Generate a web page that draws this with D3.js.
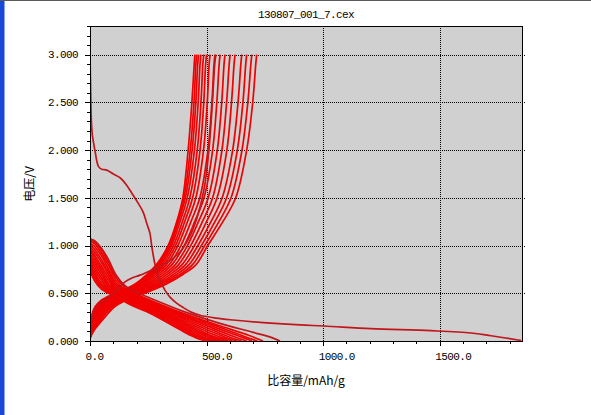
<!DOCTYPE html>
<html><head><meta charset="utf-8">
<script src="https://cdn.jsdelivr.net/npm/d3@7"></script>
<style>
html,body{margin:0;padding:0;background:#fff;}
svg{display:block;}
</style></head>
<body>
<svg id="chart" width="591" height="415"></svg>
<script>
// ---- data (capacity mAh/g, voltage V) ----
const title = "130807_001_7.cex";
const xLabel = "比容量/mAh/g";
const yLabel = "电压/V";
const xTicks = [0, 500, 1000, 1500];
const xTickLabels = ["0.0", "500.0", "1000.0", "1500.0"];
const yTicks = [0, 0.5, 1.0, 1.5, 2.0, 2.5, 3.0];
const yTickLabels = ["0.000", "0.500", "1.000", "1.500", "2.000", "2.500", "3.000"];

const dis1 = [[0,3.0],[3,2.6],[6,2.3],[10,2.16],[15,2.08],[21,2.0],[36,1.83],[50,1.8],[72,1.79],[100,1.75],[129,1.71],[155,1.64],[179,1.55],[205,1.45],[228,1.35],[245,1.22],[257,1.13],[265,0.99],[279,0.80],[293,0.68],[307,0.60],[322,0.53],[343,0.46],[370,0.40],[400,0.35],[436,0.30],[472,0.27],[540,0.24],[614,0.22],[758,0.19],[901,0.168],[1004,0.157],[1205,0.13],[1463,0.108],[1634,0.084],[1720,0.055],[1850,0.005]];
const chg1 = [[0,0.05],[4,0.18],[10,0.25],[21,0.33],[50,0.41],[93,0.48],[125,0.56],[150,0.62],[180,0.66],[215,0.69],[270,0.75],[335,0.83],[385,0.93],[425,1.08],[460,1.3],[490,1.6],[510,2.0],[525,2.5],[535,2.9],[540,3.0]];

const dis2 = [[0,3.0],[0,1.08],[20,1.05],[50,0.97],[80,0.85],[110,0.70],[150,0.58],[200,0.51],[257,0.45],[400,0.31],[550,0.19],[700,0.09],[780,0.035],[815,0]];
const chg2 = [[0,0.03],[20,0.12],[64,0.25],[107,0.36],[150,0.42],[200,0.47],[255,0.52],[330,0.6],[400,0.7],[455,0.8],[505,1.0],[570,1.25],[625,1.5],[672,2.0],[698,2.5],[711,2.9],[715,3.0]];
const dis3 = [[0,3.0],[0,1.07],[20,1.04],[50,0.95],[80,0.82],[110,0.67],[150,0.56],[200,0.49],[257,0.43],[400,0.29],[550,0.165],[680,0.06],[742,0]];
const chg3 = [[0,0.03],[16,0.12],[55,0.25],[98,0.36],[140,0.42],[190,0.47],[243,0.52],[318,0.6],[388,0.7],[440,0.8],[492,1.0],[553,1.25],[605,1.5],[652,2.0],[677,2.5],[690,2.9],[694,3.0]];
const dis4 = [[0,3.0],[0,1.06],[20,1.02],[50,0.92],[80,0.79],[110,0.64],[150,0.54],[200,0.48],[257,0.42],[400,0.28],[550,0.15],[660,0.05],[718,0]];
const chg4 = [[0,0.03],[13,0.12],[48,0.25],[90,0.36],[131,0.42],[180,0.47],[232,0.52],[305,0.6],[374,0.7],[425,0.8],[478,1.0],[536,1.25],[586,1.5],[632,2.0],[656,2.5],[668,2.9],[672,3.0]];
const dis5 = [[0,3.0],[0,1.04],[20,0.99],[50,0.89],[80,0.75],[110,0.61],[150,0.53],[200,0.47],[257,0.41],[400,0.27],[540,0.14],[640,0.05],[695,0]];
const chg5 = [[0,0.03],[11,0.12],[42,0.25],[82,0.36],[123,0.42],[171,0.47],[222,0.52],[293,0.6],[360,0.7],[410,0.8],[463,1.0],[519,1.25],[567,1.5],[612,2.0],[635,2.5],[647,2.9],[651,3.0]];
const dis6 = [[0,3.0],[0,1.02],[20,0.96],[50,0.85],[80,0.72],[110,0.59],[150,0.52],[200,0.46],[257,0.40],[400,0.26],[530,0.13],[620,0.045],[672,0]];
const chg6 = [[0,0.03],[9,0.12],[36,0.25],[75,0.36],[115,0.42],[162,0.47],[212,0.52],[281,0.6],[346,0.7],[395,0.8],[448,1.0],[500,1.25],[545,1.5],[587,2.0],[607,2.5],[618,2.9],[622,3.0]];
const dis7 = [[0,3.0],[0,1.0],[20,0.93],[50,0.82],[80,0.69],[110,0.57],[150,0.51],[200,0.45],[257,0.39],[400,0.245],[520,0.12],[600,0.04],[650,0]];
const chg7 = [[0,0.03],[8,0.12],[31,0.25],[68,0.36],[107,0.42],[153,0.47],[202,0.52],[269,0.6],[332,0.7],[380,0.8],[432,1.0],[482,1.25],[526,1.5],[566,2.0],[586,2.5],[597,2.9],[601,3.0]];
const dis8 = [[0,3.0],[0,0.98],[20,0.90],[50,0.78],[80,0.66],[110,0.55],[150,0.50],[200,0.44],[257,0.38],[400,0.23],[510,0.11],[580,0.04],[630,0]];
const chg8 = [[0,0.03],[7,0.12],[27,0.25],[61,0.36],[99,0.42],[145,0.47],[193,0.52],[258,0.6],[319,0.7],[366,0.8],[418,1.0],[465,1.25],[507,1.5],[546,2.0],[565,2.5],[575,2.9],[579,3.0]];
const dis9 = [[0,3.0],[0,0.96],[20,0.87],[50,0.75],[80,0.63],[110,0.54],[150,0.49],[200,0.43],[257,0.37],[400,0.215],[500,0.10],[565,0.035],[610,0]];
const chg9 = [[0,0.03],[6,0.12],[23,0.25],[55,0.36],[92,0.42],[137,0.47],[184,0.52],[248,0.6],[306,0.7],[352,0.8],[404,1.0],[449,1.25],[489,1.5],[526,2.0],[544,2.5],[554,2.9],[558,3.0]];
const dis10 = [[0,3.0],[0,0.93],[20,0.84],[50,0.72],[80,0.60],[110,0.53],[150,0.48],[200,0.42],[257,0.36],[400,0.20],[490,0.09],[550,0.03],[592,0]];
const chg10 = [[0,0.03],[5,0.12],[19,0.25],[49,0.36],[85,0.42],[129,0.47],[176,0.52],[238,0.6],[294,0.7],[340,0.8],[390,1.0],[433,1.25],[471,1.5],[506,2.0],[523,2.5],[532,2.9],[536,3.0]];
const dis11 = [[0,3.0],[0,0.91],[20,0.81],[50,0.69],[80,0.58],[110,0.52],[150,0.47],[200,0.41],[257,0.35],[400,0.185],[480,0.085],[535,0.03],[575,0]];
const chg11 = [[0,0.03],[4,0.12],[16,0.25],[43,0.36],[78,0.42],[121,0.47],[168,0.52],[229,0.6],[283,0.7],[328,0.8],[377,1.0],[418,1.25],[454,1.5],[487,2.0],[503,2.5],[511,2.9],[515,3.0]];
const dis12 = [[0,3.0],[0,0.88],[20,0.78],[50,0.66],[80,0.56],[110,0.51],[150,0.46],[200,0.40],[257,0.34],[400,0.17],[470,0.08],[520,0.028],[560,0]];
const chg12 = [[0,0.03],[4,0.12],[13,0.25],[38,0.36],[72,0.42],[114,0.47],[161,0.52],[221,0.6],[274,0.7],[318,0.8],[367,1.0],[406,1.25],[440,1.5],[472,2.0],[488,2.5],[496,2.9],[500,3.0]];
const dis13 = [[0,3.0],[0,0.86],[20,0.75],[50,0.63],[80,0.54],[110,0.50],[150,0.45],[200,0.39],[257,0.33],[400,0.155],[460,0.075],[505,0.025],[545,0]];
const chg13 = [[0,0.03],[3,0.12],[11,0.25],[34,0.36],[66,0.42],[108,0.47],[155,0.52],[214,0.6],[266,0.7],[309,0.8],[358,1.0],[396,1.25],[428,1.5],[460,2.0],[476,2.5],[484,2.9],[488,3.0]];
const dis14 = [[0,3.0],[0,0.84],[20,0.72],[50,0.60],[80,0.53],[110,0.49],[150,0.44],[200,0.38],[257,0.32],[400,0.14],[450,0.07],[495,0.022],[532,0]];
const chg14 = [[0,0.03],[3,0.12],[9,0.25],[30,0.36],[60,0.42],[102,0.47],[149,0.52],[208,0.6],[259,0.7],[301,0.8],[350,1.0],[386,1.25],[417,1.5],[448,2.0],[464,2.5],[472,2.9],[476,3.0]];
const dis15 = [[0,3.0],[0,0.81],[20,0.69],[50,0.58],[80,0.52],[110,0.48],[150,0.43],[200,0.37],[257,0.31],[400,0.125],[445,0.065],[485,0.02],[520,0]];
const chg15 = [[0,0.03],[2,0.12],[8,0.25],[27,0.36],[55,0.42],[96,0.47],[143,0.52],[203,0.6],[253,0.7],[295,0.8],[344,1.0],[379,1.25],[409,1.5],[438,2.0],[454,2.5],[462,2.9],[466,3.0]];
const dis16 = [[0,3.0],[0,0.79],[20,0.66],[50,0.56],[80,0.51],[110,0.47],[150,0.42],[200,0.36],[257,0.30],[400,0.11],[440,0.06],[478,0.02],[510,0]];
const chg16 = [[0,0.03],[2,0.12],[7,0.25],[24,0.36],[50,0.42],[88,0.47],[137,0.52],[199,0.6],[249,0.7],[290,0.8],[339,1.0],[375,1.25],[403,1.5],[430,2.0],[446,2.5],[454,2.9],[458,3.0]];
const dis17 = [[0,3.0],[0,0.76],[20,0.63],[50,0.54],[80,0.50],[110,0.46],[150,0.41],[200,0.35],[257,0.29],[400,0.10],[435,0.055],[470,0.018],[500,0]];
const chg17 = [[0,0.03],[2,0.12],[6,0.25],[22,0.36],[45,0.42],[80,0.47],[130,0.52],[195,0.6],[245,0.7],[285,0.8],[335,1.0],[372,1.25],[398,1.5],[421,2.0],[437,2.5],[447,2.9],[450,3.0]];

const brightRed = "#f00000";
const darkRed = "#c0161c";
const curves = [
  {pts: chg17, c: brightRed}, {pts: dis17, c: brightRed},
  {pts: chg16, c: brightRed}, {pts: dis16, c: brightRed},
  {pts: chg15, c: brightRed}, {pts: dis15, c: brightRed},
  {pts: chg14, c: brightRed}, {pts: dis14, c: brightRed},
  {pts: chg13, c: brightRed}, {pts: dis13, c: brightRed},
  {pts: chg12, c: brightRed}, {pts: dis12, c: brightRed},
  {pts: chg11, c: brightRed}, {pts: dis11, c: brightRed},
  {pts: chg10, c: brightRed}, {pts: dis10, c: brightRed},
  {pts: chg9, c: brightRed}, {pts: dis9, c: brightRed},
  {pts: chg8, c: brightRed}, {pts: dis8, c: brightRed},
  {pts: chg7, c: brightRed}, {pts: dis7, c: brightRed},
  {pts: chg6, c: brightRed}, {pts: dis6, c: brightRed},
  {pts: chg5, c: brightRed}, {pts: dis5, c: brightRed},
  {pts: chg4, c: brightRed}, {pts: dis4, c: brightRed},
  {pts: chg3, c: brightRed}, {pts: dis3, c: brightRed},
  {pts: chg2, c: brightRed}, {pts: dis2, c: darkRed},
  {pts: chg1, c: darkRed}, {pts: dis1, c: darkRed}
];

// ---- layout ----
const svg = d3.select("#chart");
const L = 90, R = 522, T = 26, B = 341;
const x = d3.scaleLinear().domain([0, 1853]).range([L, R]);
const y = d3.scaleLinear().domain([0, 3.3]).range([B, T]);
const mono = "'Liberation Mono', 'DejaVu Sans Mono', monospace";
const cjk = "'Noto Sans CJK SC', 'Noto Sans', sans-serif";

// window chrome
svg.append("rect").attr("x",0).attr("y",0).attr("width",591).attr("height",415).attr("fill","#ffffff");
svg.append("rect").attr("x",0).attr("y",0).attr("width",4).attr("height",415).attr("fill","#1848d8");
svg.append("rect").attr("x",4).attr("y",0).attr("width",1).attr("height",415).attr("fill","#8aa4e4");
svg.append("rect").attr("x",0).attr("y",0).attr("width",591).attr("height",1).attr("fill","#5a5a5a");

// plot background
svg.append("rect").attr("x",L).attr("y",T).attr("width",R-L).attr("height",B-T).attr("fill","#d0d0d0");

// grid
const grid = svg.append("g").attr("stroke","#000").attr("stroke-width",1).attr("stroke-dasharray","1,1").attr("shape-rendering","crispEdges");
xTicks.filter(v => v > 0).forEach(v => {
  grid.append("line").attr("x1",Math.round(x(v))+0.5).attr("x2",Math.round(x(v))+0.5).attr("y1",T).attr("y2",B);
});
yTicks.filter(v => v > 0).forEach(v => {
  grid.append("line").attr("y1",Math.round(y(v))+0.5).attr("y2",Math.round(y(v))+0.5).attr("x1",L).attr("x2",R+3);
});

// curves
svg.append("clipPath").attr("id","clip").append("rect").attr("x",L).attr("y",T-1).attr("width",R-L+1).attr("height",B-T+2);
const line = d3.line().x(d => x(d[0])).y(d => y(d[1])).curve(d3.curveCatmullRom.alpha(0.5));
const cg = svg.append("g").attr("clip-path","url(#clip)");
curves.forEach(cv => {
  cg.append("path").attr("d", line(cv.pts)).attr("fill","none").attr("stroke",cv.c).attr("stroke-width",1.7).attr("stroke-linejoin","round");
});

// frame
svg.append("rect").attr("x",L+0.5).attr("y",T+0.5).attr("width",R-L).attr("height",B-T).attr("fill","none").attr("stroke","#000").attr("stroke-width",1).attr("shape-rendering","crispEdges");

// axes ticks
const xAxis = d3.axisBottom(x).tickValues(d3.range(0, 1801, 100)).tickSizeInner(3).tickSizeOuter(0).tickFormat("");
const gx = svg.append("g").attr("transform",`translate(0,${B})`).call(xAxis);
gx.select(".domain").remove();
gx.selectAll(".tick line").attr("stroke","#000").attr("shape-rendering","crispEdges")
  .attr("y2", d => (d % 500 === 0 ? 5 : 3));

const yAxis = d3.axisLeft(y).tickValues(d3.range(0, 3.31, 0.1).map(v => +v.toFixed(1))).tickSizeInner(3).tickSizeOuter(0).tickFormat("");
const gy = svg.append("g").attr("transform",`translate(${L},0)`).call(yAxis);
gy.select(".domain").remove();
gy.selectAll(".tick line").attr("stroke","#000").attr("shape-rendering","crispEdges")
  .attr("x2", d => (Math.abs(d*2 - Math.round(d*2)) < 1e-6 ? -5 : -3));

// tick labels
xTicks.forEach((v, i) => {
  svg.append("text").attr("x", x(v) - 4.5).attr("y", 360).attr("font-family", mono).attr("font-size", 11)
    .attr("letter-spacing", "-0.6").attr("fill","#000").text(xTickLabels[i]);
});
yTicks.forEach((v, i) => {
  svg.append("text").attr("x", 78).attr("y", y(v)).attr("dy","0.35em").attr("text-anchor","end")
    .attr("font-family", mono).attr("font-size", 11).attr("letter-spacing", "-0.6").attr("fill","#000").text(yTickLabels[i]);
});

// title and axis labels
svg.append("text").attr("x", 306).attr("y", 18).attr("text-anchor","middle").attr("font-family", mono)
  .attr("font-size", 11).attr("letter-spacing","-0.6").attr("fill","#000").text(title);
svg.append("text").attr("x", 306).attr("y", 381).attr("dy","0.35em").attr("text-anchor","middle").attr("font-family", cjk)
  .attr("font-size", 12).attr("fill","#000").text(xLabel);
svg.append("text").attr("transform","translate(30,184) rotate(-90)").attr("dy","0.35em").attr("text-anchor","middle")
  .attr("font-family", cjk).attr("font-size", 12).attr("fill","#000").text(yLabel);
</script>
</body></html>
